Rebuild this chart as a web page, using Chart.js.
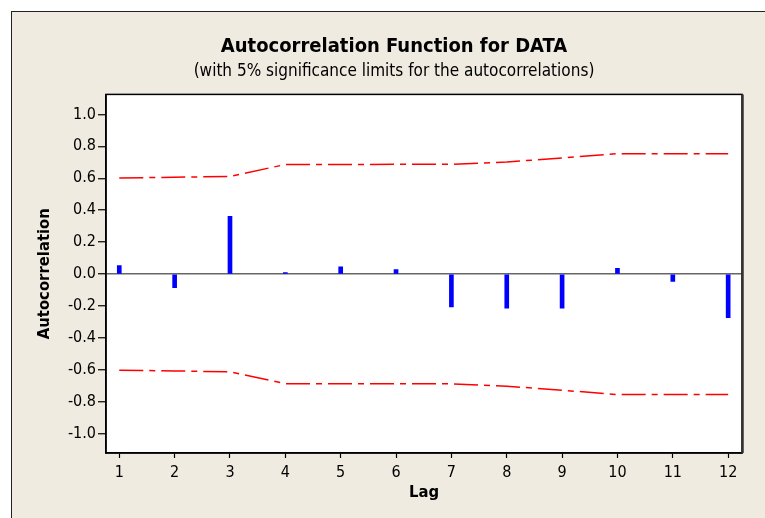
<!DOCTYPE html>
<html>
<head>
<meta charset="utf-8">
<script src="https://cdn.jsdelivr.net/npm/chart.js@4.4.0/dist/chart.umd.min.js"></script>
<style>
  html, body { margin: 0; background: #ffffff; overflow: hidden; }
  #wrap { position: relative; width: 765px; height: 518px; overflow: hidden; }
  #frame {
    position: absolute; left: 11px; top: 11px; width: 760px; height: 520px;
    background: #efebe0; border-left: 1.5px solid #222; border-top: 1.5px solid #222;
  }
  #acf { position: absolute; left: 0; top: 0; }
</style>
</head>
<body>
<div id="wrap">
  <div id="frame"></div>
  <canvas id="acf" width="765" height="518"></canvas>
</div>
<script>
// lags and autocorrelations
var lags = [1, 2, 3, 4, 5, 6, 7, 8, 9, 10, 11, 12];
var acfValues = [0.054, -0.085, 0.362, 0.010, 0.046, 0.029, -0.206, -0.214, -0.214, 0.036, -0.046, -0.273];
// 5% significance limits
var upperLimits = [0.602, 0.606, 0.612, 0.686, 0.686, 0.687, 0.687, 0.702, 0.727, 0.754, 0.754, 0.754];
var lowerLimits = [-0.602, -0.606, -0.612, -0.686, -0.686, -0.687, -0.687, -0.702, -0.727, -0.754, -0.754, -0.754];
var yTicks = [-1.0, -0.8, -0.6, -0.4, -0.2, 0, 0.2, 0.4, 0.6, 0.8, 1.0];

var fontName = "'DejaVu Sans Condensed', 'DejaVu Sans', sans-serif";
Chart.defaults.font.family = fontName;
Chart.defaults.color = '#000';

function pts(vals) {
    var out = [];
    for (var i = 0; i < lags.length; i++) {
        out.push({x: lags[i], y: vals[i]});
    }
    return out;
}

// white plot background and the box round it
var plotBox = {
    id: 'plotBox',
    beforeDraw: function(chart) {
        var a = chart.chartArea, ctx = chart.ctx;
        ctx.save();
        ctx.fillStyle = '#ffffff';
        ctx.fillRect(a.left, a.top, a.right - a.left, a.bottom - a.top);
        ctx.restore();
    },
    afterDraw: function(chart) {
        var a = chart.chartArea, ctx = chart.ctx;
        ctx.save();
        ctx.strokeStyle = '#000';
        ctx.lineWidth = 1.5;
        ctx.strokeRect(a.left, a.top, a.right - a.left, a.bottom - a.top);
        ctx.strokeStyle = '#333';
        ctx.lineWidth = 2.5;
        ctx.beginPath();
        ctx.moveTo(a.right + 0.5, a.top);
        ctx.lineTo(a.right + 0.5, a.bottom);
        ctx.stroke();
        ctx.restore();
    }
};

var limitStyle = {
    type: 'line',
    borderColor: '#ff0000',
    borderWidth: 1.5,
    borderDash: [24, 6, 6, 6],
    pointRadius: 0,
    tension: 0,
    fill: false
};

new Chart('acf', {
    type: 'bar',
    data: {
        datasets: [
            Object.assign({label: 'upper', data: pts(upperLimits)}, limitStyle),
            Object.assign({label: 'lower', data: pts(lowerLimits)}, limitStyle),
            {
                type: 'bar',
                label: 'ACF',
                data: pts(acfValues),
                backgroundColor: '#0000ff',
                borderWidth: 0,
                barThickness: 4
            }
        ]
    },
    options: {
        responsive: false,
        animation: false,
        devicePixelRatio: 1,
        layout: { padding: { left: 46, right: 23, top: 0, bottom: 0 } },
        plugins: {
            legend: { display: false },
            tooltip: { enabled: false },
            title: {
                display: true,
                text: 'Autocorrelation Function for DATA',
                font: { size: 20, weight: 'bold' },
                padding: { top: 35, bottom: 0 }
            },
            subtitle: {
                display: true,
                text: '(with 5% significance limits for the autocorrelations)',
                font: { size: 17 },
                color: '#000',
                padding: { top: 2, bottom: 13 }
            }
        },
        scales: {
            x: {
                type: 'linear',
                min: 0.76,
                max: 12.25,
                offset: false,
                afterBuildTicks: function(scale) {
                    scale.ticks = lags.map(function(v) { return {value: v}; });
                },
                afterFit: function(scale) { scale.height = 65; },
                grid: { drawOnChartArea: false, tickLength: 5, tickColor: '#000', tickWidth: 1.2, offset: false },
                border: { display: true, color: '#000', width: 1.5 },
                ticks: { font: { size: 16 }, padding: 5, maxRotation: 0, autoSkip: false },
                title: {
                    display: true,
                    text: 'Lag',
                    font: { size: 16.5, weight: 'bold' },
                    padding: { top: 0, bottom: 15 }
                }
            },
            y: {
                min: -1.12,
                max: 1.125,
                afterBuildTicks: function(scale) {
                    scale.ticks = yTicks.map(function(v) { return {value: v}; });
                },
                afterFit: function(scale) { scale.width = 60; },
                grid: {
                    color: function(ctx) { return ctx.tick && ctx.tick.value === 0 ? '#666666' : 'rgba(0,0,0,0)'; },
                    lineWidth: 1.5,
                    tickLength: 8,
                    tickColor: '#000',
                    tickWidth: 1.2
                },
                border: { display: true, color: '#000', width: 1.5 },
                ticks: {
                    font: { size: 16 },
                    padding: 2,
                    autoSkip: false,
                    callback: function(v) { return v.toFixed(1); }
                },
                title: {
                    display: true,
                    text: 'Autocorrelation',
                    font: { size: 16.5, weight: 'bold' },
                    padding: { top: -11, bottom: 0 }
                }
            }
        }
    },
    plugins: [plotBox]
});
</script>
</body>
</html>
